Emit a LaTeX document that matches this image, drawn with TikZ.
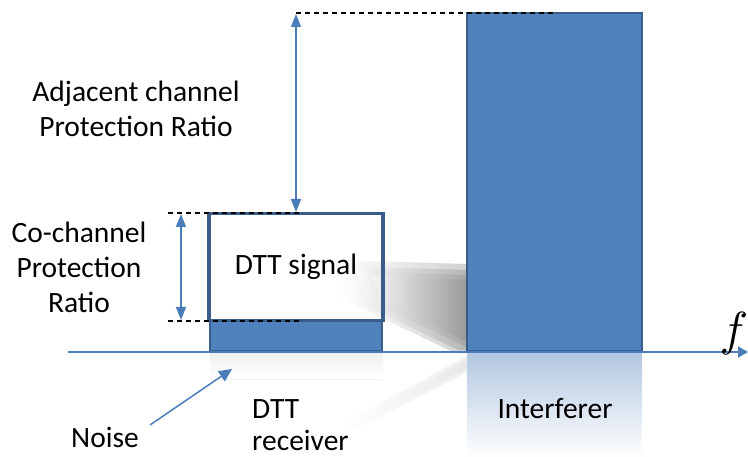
\documentclass[tikz,border=0pt]{standalone}
\usepackage{fontspec}
\setmainfont{Carlito}
\usetikzlibrary{arrows.meta}
\definecolor{boxfill}{HTML}{4F81BD}
\definecolor{boxline}{HTML}{3A5E8C}
\definecolor{arrowblue}{HTML}{4A7EBB}
\definecolor{reflblue}{HTML}{B3C7E1}
\begin{document}
\begin{tikzpicture}[x=1bp,y=-1bp,
  lbl/.style={font=\fontsize{29.5bp}{35bp}\selectfont, align=center, inner sep=0pt},
  barbox/.style={fill=boxfill, draw=boxline, line width=1.5bp, inner sep=0pt},
  dim/.style={arrowblue, line width=1.4bp, {Triangle[width=10bp,length=13bp]}-{Triangle[width=10bp,length=13bp]}},
  guide/.style={black, line width=1.3bp, dash pattern=on 5bp off 4bp},
  shad/.style={left color=white, right color=black!45, opacity=0.4}]
\useasboundingbox (0,0) rectangle (748,457);
% reflections
\shade[top color=reflblue, bottom color=white] (467,353) rectangle (642,457);
\shade[top color=black!6, bottom color=white] (210,353) rectangle (383,379);
\draw[black!5, line width=1bp] (210,379) -- (383,379);
\shade[left color=white, right color=black!12, opacity=0.5] (467,356) -- (467,372) -- (360,428) -- (340,424) -- cycle;
\shade[left color=white, right color=black!12, opacity=0.5] (467,360) -- (467,368) -- (370,422) -- (355,420) -- cycle;
% DTT signal box fill
\node[fill=white, minimum width=174bp, minimum height=107bp, inner sep=0pt] (sig) at (296,267) {};
% soft shadow
\shade[shad] (340,260) -- (467,264) -- (467,353) -- (455,353) -- (340,298) -- cycle;
\shade[shad] (348,266) -- (467,270) -- (467,350) -- (458,350) -- (352,299) -- cycle;
\shade[shad] (358,271) -- (467,275) -- (467,347) -- (364,299) -- cycle;
\shade[shad] (372,276) -- (467,280) -- (467,342) -- (380,298) -- cycle;
% DTT signal border
\draw[boxline, line width=3.5bp] (sig.south west) rectangle (sig.north east);
\node[lbl] at (sig.center) {DTT signal};
% noise bar
\node[barbox, line width=2bp, minimum width=172bp, minimum height=30bp] (noise) at (296,336) {};
\draw[boxline, line width=3.5bp] (sig.south west) rectangle (sig.north east);
% interferer
\node[barbox, minimum width=175bp, minimum height=338bp] (intf) at (554.5,182) {};
% axis
\coordinate (axL) at (68,352);
\coordinate (axR) at (748,352);
\draw[arrowblue, line width=2bp, -{Triangle[width=11bp,length=10bp]}] (axL) -- (axR);
\node[inner sep=0pt, anchor=base] (f) at (734,346) {\scalebox{4.8}{$f$}};
% guides
\coordinate (gTopL) at (296,13);
\coordinate (gTopR) at (555,13);
\coordinate (gSigL) at (168,213);
\coordinate (gSigR) at (300,213);
\coordinate (gNoiL) at (168,321);
\coordinate (gNoiR) at (300,321);
\draw[guide] (gTopL) -- (gTopR);
\draw[guide] (gSigL) -- (gSigR);
\draw[guide] (gNoiL) -- (gNoiR);
% dimension arrows
\coordinate (adjT) at (296,14);
\coordinate (adjB) at (296,212);
\coordinate (coT) at (181,214);
\coordinate (coB) at (181,320);
\draw[dim] (adjT) -- (adjB);
\draw[dim] (coT) -- (coB);
% labels
\node[lbl] (adjlbl) at (136,109) {Adjacent channel\\Protection Ratio};
\node[lbl] (colbl) at (79,267) {Co-channel\\Protection\\Ratio};
\node[lbl, anchor=base west] (dtt1) at (252,418) {DTT};
\node[lbl, anchor=base west, text depth=0pt] (dtt2) at (252,450) {receiver};
\node[lbl, anchor=base] (intlbl) at (555,418) {Interferer};
\node[lbl, anchor=base] (noiselbl) at (105,447) {Noise};
\coordinate (nArrS) at (150,425);
\coordinate (nArrE) at (232,369);
\draw[arrowblue, line width=1.5bp, -{Triangle[width=12bp,length=13bp]}] (nArrS) -- (nArrE);
\end{tikzpicture}
\end{document}
